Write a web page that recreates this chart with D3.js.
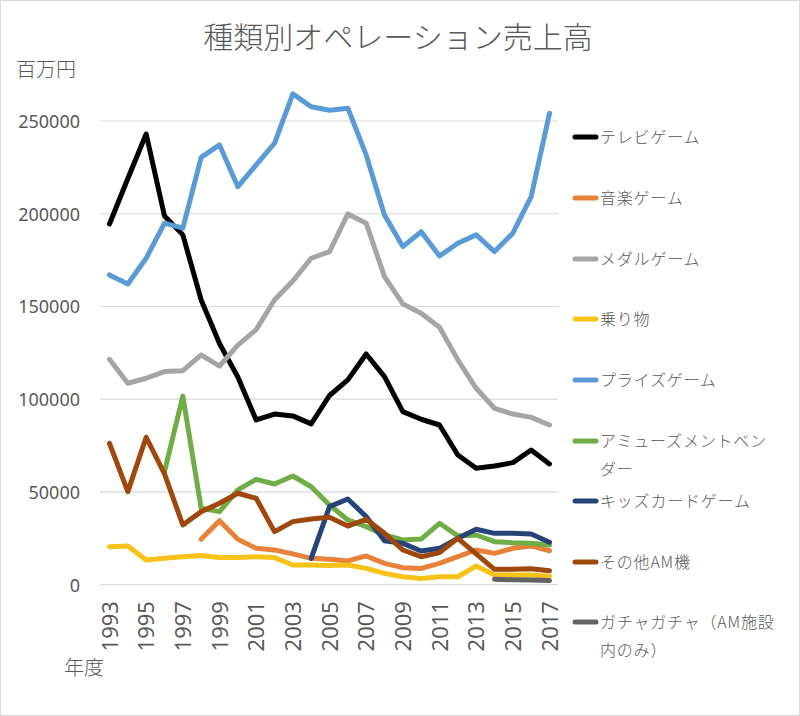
<!DOCTYPE html>
<html><head><meta charset="utf-8">
<script src="https://cdn.jsdelivr.net/npm/d3@7"></script>
<style>
body{margin:0;background:#fff;}
text{font-family:"Noto Sans CJK JP","Noto Sans",sans-serif;fill:#595959;}
</style></head>
<body><svg id="c" width="800" height="716"></svg>
<script>
const years = d3.range(1993, 2018);
const xTickLabels = ["1993","1995","1997","1999","2001","2003","2005","2007","2009","2011","2013","2015","2017"];
const yTicks = [0, 50000, 100000, 150000, 200000, 250000];
const seriesNames = ["テレビゲーム","音楽ゲーム","メダルゲーム","乗り物","プライズゲーム","アミューズメントベンダー","キッズカードゲーム","その他AM機","ガチャガチャ（AM施設内のみ）"];
const seriesColors = ["#000000","#E8823A","#A5A5A5","#F7C21A","#5B9BD5","#70AD47","#264478","#9E480E","#636363"];
const _ = null;
const tvGame =   [194500,219000,243000,198800,188600,153500,130000,112000,88800,92000,91000,86700,102000,110400,124400,112200,93300,89200,86100,69900,62800,64000,65800,72600,65100];
const musicGame =[_,_,_,_,_,24500,34500,24500,19600,18700,16600,14200,13700,12800,15500,11500,9200,8800,11500,15100,18700,16900,19600,20900,18300];
const medalGame =[121500,108600,111300,114900,115400,123900,117900,129200,137500,153500,163700,176000,179600,199900,194900,166100,151400,146300,138800,121200,105900,95100,92000,90200,86100];
const rides =    [20500,20900,13300,14200,15100,15800,14600,14600,15100,14600,10600,10600,10400,10600,8800,6100,4300,3400,4300,4300,10100,5200,5200,5200,4600];
const prizeGame =[167000,162100,176000,194900,192200,230400,237100,214600,226300,238000,264600,257700,255800,256900,231700,199300,182300,190300,177200,184100,188600,179600,189500,209200,254200];
const vender =   [_,_,_,61000,101700,41200,39400,51100,56800,54300,58600,52800,43000,34900,31300,26800,24100,24600,33100,26300,26800,23200,22600,22300,21400];
const kidsCard = [_,_,_,_,_,_,_,_,_,_,_,14200,42100,46200,36700,23700,22300,18200,19600,25000,29900,27700,27700,27300,22900];
const otherAM =  [76200,50200,79500,59700,32200,39400,43900,49300,46600,28600,34000,35400,36400,31600,35300,27700,18700,15100,17300,25000,16600,8300,8300,8600,7500];
const gacha =    [_,_,_,_,_,_,_,_,_,_,_,_,_,_,_,_,_,_,_,_,_,2900,2700,2500,2200];
const seriesValues = [tvGame,musicGame,medalGame,rides,prizeGame,vender,kidsCard,otherAM,gacha];

const svg = d3.select("#c");
svg.append("rect").attr("x",0.5).attr("y",0.5).attr("width",799).attr("height",715)
  .attr("fill","#fff").attr("stroke","#d9d9d9");

const x = d3.scaleLinear().domain([1993,2017]).range([109.5,549.5]);
const y = d3.scaleLinear().domain([0,250000]).range([584.7,121]);

// gridlines
svg.append("g").selectAll("line").data(yTicks).join("line")
  .attr("x1",100).attr("x2",558).attr("y1",d=>y(d)).attr("y2",d=>y(d))
  .attr("stroke","#d9d9d9").attr("stroke-width",1.2);

// y axis labels
const yAxis = d3.axisLeft(y).tickValues(yTicks).tickSize(0).tickPadding(0).tickFormat(d3.format("d"));
const gy = svg.append("g").attr("transform","translate(80,0)").call(yAxis);
gy.select(".domain").remove();
gy.selectAll("text").attr("font-size",18).attr("fill","#595959")
  .style("font-family","'Noto Sans',sans-serif").attr("dy","0.35em");

// x axis labels
const xAxis = d3.axisBottom(x).tickValues(xTickLabels.map(Number)).tickSize(0).tickFormat(d=>String(d));
const gx = svg.append("g").attr("transform","translate(0,600)").call(xAxis);
gx.select(".domain").remove();
gx.selectAll("text").attr("font-size",22).attr("fill","#595959")
  .style("font-family","'Noto Sans',sans-serif")
  .attr("transform","rotate(-90)").attr("text-anchor","end")
  .attr("x",0).attr("y",0).attr("dx","-0.05em").attr("dy","0.35em");

// lines
const line = d3.line().defined(d=>d[1]!==null).x(d=>x(d[0])).y(d=>y(d[1]));
seriesValues.forEach((vals,i)=>{
  svg.append("path").datum(years.map((yr,j)=>[yr,vals[j]]))
    .attr("d",line).attr("fill","none").attr("stroke",seriesColors[i])
    .attr("stroke-width",5).attr("stroke-linejoin","round").attr("stroke-linecap","round");
});

// title and axis titles
svg.append("text").attr("x",398).attr("y",48).attr("text-anchor","middle")
  .attr("font-size",30).attr("font-weight",300).text("種類別オペレーション売上高");
svg.append("text").attr("x",16).attr("y",77).attr("font-size",20).attr("font-weight",300).text("百万円");
svg.append("text").attr("x",64).attr("y",675).attr("font-size",20).attr("font-weight",300).text("年度");

// legend
const legendY = [137,198,259,319,380,441,501,562,622];
const legendLines = [["テレビゲーム"],["音楽ゲーム"],["メダルゲーム"],["乗り物"],["プライズゲーム"],
  ["アミューズメントベン","ダー"],["キッズカードゲーム"],["その他AM機"],["ガチャガチャ（AM施設","内のみ）"]];
const lg = svg.append("g");
seriesNames.forEach((n,i)=>{
  lg.append("line").attr("x1",575).attr("x2",596).attr("y1",legendY[i]).attr("y2",legendY[i])
    .attr("stroke",seriesColors[i]).attr("stroke-width",5).attr("stroke-linecap","round");
  const t = lg.append("text").attr("x",600).attr("y",legendY[i]).attr("font-size",16)
    .attr("font-weight",300).attr("letter-spacing",0.8).attr("dy","0.35em");
  legendLines[i].forEach((s,k)=>{
    t.append("tspan").attr("x",600).attr("dy",k===0?"0.35em":"1.8em").text(s);
  });
});
</script></body></html>
